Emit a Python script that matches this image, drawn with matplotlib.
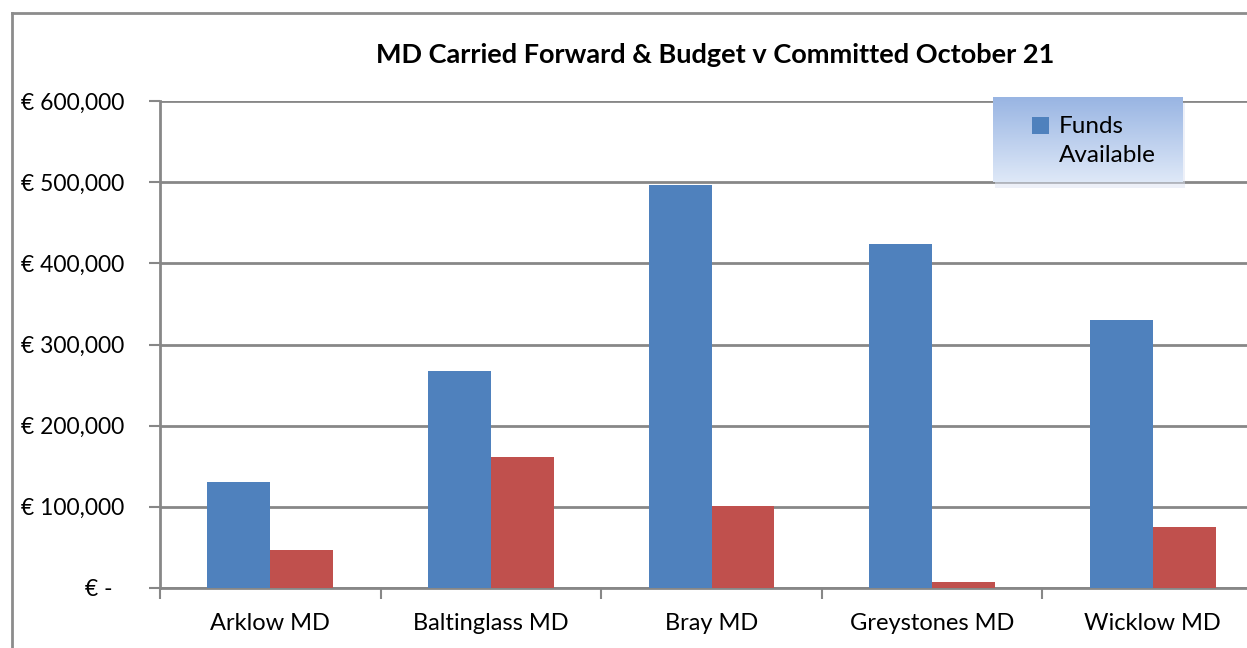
import numpy as np
import matplotlib
matplotlib.use("Agg")
import matplotlib.pyplot as plt
from matplotlib.patches import Patch, Rectangle
from matplotlib.legend_handler import HandlerPatch
from matplotlib.ticker import FuncFormatter

# data
districts = ["Arklow MD", "Baltinglass MD", "Bray MD", "Greystones MD", "Wicklow MD"]
funds_available = [130600, 267000, 496500, 424000, 330000]
committed = [46800, 161000, 101000, 7400, 75500]
y_ticks = [0, 100000, 200000, 300000, 400000, 500000, 600000]

BLUE = "#4f81bd"
RED = "#c0504d"
GRID = "#878787"

plt.rcParams["font.family"] = ["Lato", "DejaVu Sans"]

W, H = 1247, 648
fig = plt.figure(figsize=(W / 100, H / 100), dpi=100)

# outer chart border (cropped on the right and bottom)
fig.add_artist(plt.Line2D([11.5 / W, 11.5 / W], [0, 1 - 13 / H], color="#8c8c8c", lw=2))
fig.add_artist(plt.Line2D([11.5 / W, 1], [1 - 13 / H, 1 - 13 / H], color="#8c8c8c", lw=2))

ax = fig.add_axes([160 / W, 1 - 588 / H, 1103 / W, 487 / H])

x = np.arange(len(districts))
width = 0.285
ax.bar(x - width / 2, funds_available, width, color=BLUE, label="Funds\nAvailable", zorder=3)
ax.bar(x + width / 2, committed, width, color=RED, zorder=3)

ax.set_xlim(-0.5, len(districts) - 0.5)
ax.set_ylim(0, 600000)
ax.set_yticks(y_ticks)


def euro(v, pos):
    if v == 0:
        return "€ -  "
    return f"€ {int(v):,}"


ax.yaxis.set_major_formatter(FuncFormatter(euro))
ax.set_xticks(x)
ax.set_xticklabels(districts)
ax.set_xticks(np.arange(len(districts) + 1) - 0.5, minor=True)
ax.tick_params(axis="x", which="major", length=0, pad=18, labelsize=17)
ax.tick_params(axis="x", which="minor", length=8, width=1.5, color=GRID, direction="out")
ax.tick_params(axis="y", length=8, width=1.5, color=GRID, pad=18, labelsize=16.5)

ax.grid(axis="y", color=GRID, lw=2, zorder=0)
for side in ["top", "right"]:
    ax.spines[side].set_visible(False)
ax.spines["left"].set_color(GRID)
ax.spines["left"].set_linewidth(2)
ax.spines["bottom"].set_color(GRID)
ax.spines["bottom"].set_linewidth(2)

fig.text(715 / W, 1 - 55 / H, "MD Carried Forward & Budget v Committed October 21",
         ha="center", va="center", fontsize=19.5, fontweight="bold")

# legend box with a soft blue gradient
lx0, lx1, ly0, ly1 = 993, 1183, 97, 182
shadow = fig.add_axes([(lx0 + 2) / W, 1 - (ly1 + 6) / H, (lx1 - lx0) / W, (ly1 - ly0) / H])
shadow.imshow(np.ones((2, 2, 3)) * np.array([0.86, 0.89, 0.95]), aspect="auto", alpha=0.5)
shadow.axis("off")
lax = fig.add_axes([lx0 / W, 1 - ly1 / H, (lx1 - lx0) / W, (ly1 - ly0) / H])
top = np.array([0.60, 0.71, 0.89])
bot = np.array([0.87, 0.91, 0.97])
t = np.linspace(0, 1, 64)[:, None]
grad = top[None, None, :] * (1 - t[:, :, None]) + bot[None, None, :] * t[:, :, None]
lax.imshow(np.repeat(grad, 2, axis=1), aspect="auto")
lax.axis("off")


def top_square(legend, orig_handle, xdescent, ydescent, width, height, fontsize):
    # square sits beside the first line of the two-line label
    return Rectangle((-xdescent, -ydescent + 11.5), width, height)


lax.legend(handles=[Patch(facecolor=BLUE, label="Funds\nAvailable")], loc="upper left",
           bbox_to_anchor=(0.14, 0.92), frameon=False, fontsize=17.5, handlelength=0.7,
           handleheight=0.7, handletextpad=0.4, borderpad=0, labelspacing=0,
           handler_map={Patch: HandlerPatch(patch_func=top_square)})
plt.setp(lax.get_legend().get_texts(), linespacing=1.5)

fig.savefig("out.png", dpi=100, facecolor="white")
